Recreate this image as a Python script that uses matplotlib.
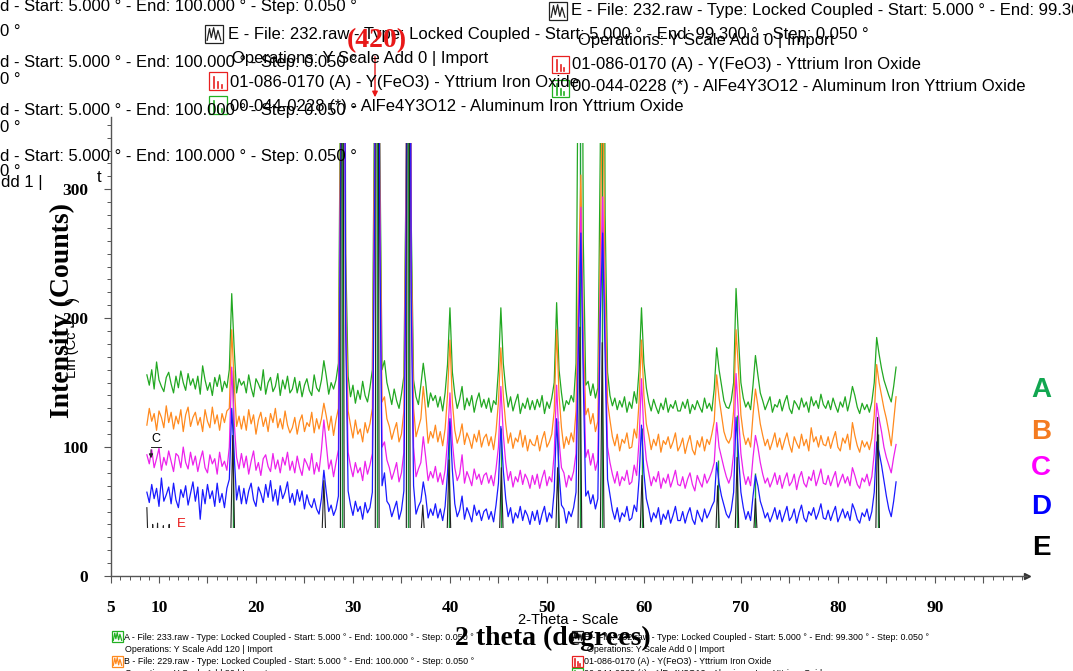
import matplotlib
matplotlib.use("Agg")
import matplotlib.pyplot as plt
import numpy as np
from matplotlib import font_manager
from matplotlib.lines import Line2D
from matplotlib.patches import Rectangle, FancyArrowPatch
from matplotlib.ticker import MultipleLocator, FixedLocator

W, H = 1073, 671
SANS = "Liberation Sans"
SERIF = "Liberation Serif"

# scan grid: 2-theta from 8.75 deg in 0.25 deg steps
THETA_START = 8.75
THETA_STEP = 0.25

# A - 233.raw (Y scale add 120)
A_COUNTS = [
    156, 148, 160, 145, 166, 152, 147, 143, 154, 158, 149, 142, 155, 146, 159, 150, 144, 157, 148, 153,
    145, 155, 141, 163, 152, 144, 150, 140, 154, 147, 156, 143, 151, 146, 160, 219, 177, 142, 153, 148,
    151, 142, 156, 146, 139, 153, 149, 144, 160, 141, 150, 154, 143, 147, 157, 140, 152, 145, 155, 142,
    145, 154, 142, 151, 139, 148, 153, 144, 140, 156, 146, 143, 152, 167, 155, 141, 150, 145, 152, 165,
    420, 900, 250, 155, 139, 148, 134, 144, 137, 151, 140, 135, 146, 160, 400, 1200, 350, 160, 167, 150,
    142, 133, 145, 136, 130, 141, 155, 330, 1000, 280, 152, 139, 133, 148, 165, 150, 131, 142, 136, 140,
    131, 139, 128, 142, 164, 208, 158, 141, 130, 137, 147, 129, 138, 132, 140, 127, 136, 142, 131, 137,
    130, 138, 127, 136, 133, 160, 208, 165, 145, 131, 139, 128, 135, 141, 126, 134, 130, 138, 129, 136,
    129, 137, 131, 140, 126, 135, 130, 138, 150, 212, 160, 142, 128, 136, 133, 140, 135, 165, 450, 700,
    260, 148, 151, 140, 149, 138, 146, 330, 800, 280, 158, 140, 132, 138, 129, 136, 131, 139, 127, 135,
    130, 143, 134, 160, 208, 165, 146, 135, 128, 137, 131, 126, 134, 129, 138, 127, 133, 130, 136, 128,
    128, 135, 130, 137, 126, 133, 129, 136, 131, 127, 138, 130, 134, 128, 145, 177, 160, 148, 136, 131,
    130, 136, 150, 223, 185, 150, 138, 131, 135, 129, 148, 171, 156, 142, 136, 129, 134, 139, 127, 133,
    131, 137, 128, 135, 140, 130, 126, 136, 133, 129, 138, 131, 135, 127, 139, 132, 136, 130, 141, 133,
    130, 136, 129, 138, 132, 127, 135, 131, 139, 128, 136, 147, 140, 131, 126, 134, 129, 133, 127, 135,
    150, 185, 172, 161, 152, 146, 140, 135, 147, 162,
]

# B - 229.raw (Y scale add 80)
B_COUNTS = [
    117, 130, 120, 126, 113, 128, 123, 115, 132, 119, 127, 114, 124, 118, 129, 112, 125, 131, 116, 123,
    127, 117, 123, 112, 129, 120, 115, 131, 118, 125, 113, 126, 119, 128, 130, 191, 150, 116, 124, 114,
    124, 113, 129, 118, 125, 110, 121, 127, 116, 123, 112, 126, 119, 130, 115, 122, 114, 128, 117, 111,
    115, 123, 110, 120, 125, 112, 119, 116, 127, 111, 122, 114, 122, 134, 124, 113, 124, 109, 121, 130,
    380, 850, 220, 128, 117, 107, 121, 110, 114, 104, 119, 111, 118, 130, 360, 1100, 320, 135, 139, 122,
    116, 106, 113, 119, 104, 110, 128, 320, 950, 260, 130, 108, 115, 122, 147, 128, 103, 112, 107, 117,
    104, 112, 101, 114, 140, 183, 135, 113, 103, 109, 118, 102, 111, 106, 99, 110, 104, 113, 100, 107,
    110, 101, 108, 98, 112, 135, 177, 140, 118, 103, 111, 99, 107, 104, 113, 100, 109, 97, 106, 102,
    101, 109, 97, 106, 112, 100, 104, 110, 128, 191, 140, 115, 99, 108, 102, 111, 104, 128, 230, 311,
    190, 125, 130, 118, 126, 112, 120, 250, 400, 220, 135, 121, 108, 101, 110, 97, 106, 103, 111, 99,
    100, 114, 107, 135, 183, 140, 118, 109, 98, 106, 101, 110, 96, 105, 102, 108, 99, 104, 111, 97,
    101, 107, 95, 103, 109, 98, 94, 105, 100, 108, 97, 106, 102, 110, 120, 156, 138, 125, 112, 106,
    103, 108, 128, 191, 160, 125, 110, 102, 107, 100, 125, 145, 132, 118, 109, 101, 106, 98, 104, 111,
    100, 107, 98, 105, 111, 102, 96, 108, 103, 99, 110, 101, 106, 97, 115, 104, 108, 100, 109, 102,
    101, 108, 99, 106, 112, 100, 97, 107, 103, 110, 98, 119, 109, 101, 96, 105, 100, 104, 98, 107,
    125, 164, 150, 140, 130, 122, 112, 101, 120, 139,
]

# C
C_COUNTS = [
    94, 87, 98, 84, 91, 99, 82, 92, 86, 97, 89, 81, 95, 93, 84, 100, 88, 83, 96, 86,
    93, 81, 90, 97, 84, 80, 94, 87, 91, 79, 96, 85, 89, 82, 100, 162, 120, 92, 83, 95,
    84, 93, 79, 89, 97, 82, 88, 78, 91, 94, 85, 81, 95, 83, 90, 80, 92, 86, 96, 82,
    89, 80, 93, 84, 78, 91, 87, 82, 95, 79, 88, 81, 98, 121, 102, 83, 90, 77, 88, 98,
    350, 800, 200, 96, 85, 77, 88, 80, 84, 74, 89, 79, 86, 95, 330, 1050, 300, 100, 104, 90,
    84, 75, 81, 88, 73, 80, 96, 300, 900, 240, 100, 77, 83, 88, 108, 92, 74, 81, 76, 85,
    73, 80, 71, 82, 105, 142, 104, 84, 74, 79, 94, 72, 81, 76, 70, 83, 75, 79, 71, 78,
    80, 72, 78, 70, 83, 100, 147, 110, 88, 74, 81, 69, 77, 73, 82, 71, 79, 75, 68, 78,
    71, 79, 68, 76, 82, 70, 77, 73, 95, 148, 105, 84, 80, 69, 78, 74, 81, 95, 200, 286,
    170, 92, 98, 86, 95, 82, 90, 220, 294, 190, 100, 88, 79, 72, 81, 70, 77, 74, 82, 71,
    73, 86, 78, 105, 153, 110, 90, 80, 70, 77, 73, 81, 68, 76, 72, 79, 69, 75, 82, 71,
    70, 77, 68, 75, 80, 71, 66, 78, 73, 69, 79, 72, 76, 81, 88, 119, 100, 92, 84, 77,
    72, 78, 95, 157, 125, 95, 80, 71, 77, 70, 92, 109, 100, 88, 79, 72, 76, 69, 74, 80,
    71, 78, 68, 75, 80, 70, 73, 79, 67, 76, 81, 72, 69, 77, 74, 82, 70, 76, 83, 72,
    71, 78, 70, 76, 81, 69, 74, 79, 72, 77, 70, 84, 78, 71, 68, 76, 73, 79, 70, 77,
    95, 134, 122, 112, 100, 92, 86, 80, 92, 102,
]

# D
D_COUNTS = [
    65, 57, 71, 60, 68, 54, 76, 58, 63, 69, 56, 72, 59, 53, 67, 61, 70, 55, 64, 73,
    58, 69, 44, 67, 56, 71, 60, 66, 54, 72, 57, 64, 53, 68, 75, 130, 95, 59, 70, 56,
    68, 56, 66, 72, 59, 54, 69, 64, 57, 71, 61, 74, 58, 67, 55, 70, 60, 65, 73, 57,
    64, 55, 67, 58, 66, 52, 63, 56, 53, 60, 52, 48, 60, 82, 65, 50, 55, 47, 52, 62,
    330, 760, 190, 66, 55, 47, 58, 50, 54, 44, 57, 49, 53, 65, 300, 1000, 280, 70, 80, 58,
    55, 46, 52, 58, 44, 51, 66, 280, 850, 220, 70, 48, 54, 58, 73, 62, 45, 52, 47, 56,
    45, 52, 43, 54, 80, 122, 82, 56, 46, 51, 62, 44, 53, 48, 42, 55, 47, 51, 43, 50,
    52, 44, 50, 42, 55, 72, 116, 82, 60, 46, 53, 41, 49, 45, 54, 43, 51, 47, 40, 50,
    43, 51, 40, 48, 54, 42, 49, 45, 66, 122, 80, 55, 52, 41, 50, 46, 53, 65, 180, 266,
    150, 62, 66, 56, 63, 52, 60, 200, 266, 170, 75, 63, 51, 44, 53, 42, 49, 46, 54, 43,
    45, 55, 50, 75, 117, 80, 60, 52, 42, 49, 45, 53, 40, 48, 44, 51, 41, 47, 54, 43,
    43, 50, 41, 48, 53, 44, 40, 51, 46, 42, 52, 45, 49, 54, 58, 88, 72, 62, 55, 48,
    45, 51, 65, 123, 95, 65, 53, 44, 50, 43, 62, 78, 70, 58, 52, 45, 49, 42, 47, 53,
    44, 51, 42, 48, 54, 43, 46, 52, 41, 49, 55, 45, 42, 50, 47, 53, 44, 49, 56, 45,
    44, 51, 43, 49, 54, 42, 47, 52, 45, 50, 43, 56, 51, 44, 41, 49, 46, 52, 43, 50,
    65, 104, 96, 86, 74, 62, 52, 46, 58, 73,
]

# E - 232.raw (Y scale add 0), mostly below the window floor
E_THETA = [8.75, 8.85, 9.3, 9.35, 9.4, 9.8, 9.85, 9.9, 10.4, 10.45, 10.5, 11.0, 11.05, 11.1,
           17.4, 17.6, 17.8, 26.8, 27.0, 27.2, 28.7, 28.9, 29.1, 32.3, 32.5, 32.7,
           35.5, 35.7, 35.9, 37.0, 37.2, 37.4, 39.7, 39.9, 40.1, 45.1, 45.3, 45.5,
           50.9, 51.1, 51.3, 53.2, 53.4, 53.6, 55.5, 55.7, 55.9, 59.6, 59.8, 60.0,
           67.4, 67.6, 67.8, 69.4, 69.6, 69.8, 71.3, 71.5, 71.7, 83.9, 84.1, 84.3, 86.0]
E_COUNTS = [53, 30, 30, 40, 30, 30, 41, 30, 30, 39, 30, 30, 40, 30,
            30, 109, 30, 30, 74, 30, 30, 700, 30, 30, 900, 30,
            30, 800, 30, 30, 55, 30, 30, 90, 30, 30, 84, 30,
            30, 84, 30, 30, 193, 30, 30, 181, 30, 30, 78, 30,
            30, 70, 30, 30, 92, 30, 30, 60, 30, 30, 123, 30, 30]

# 00-044-0228 AlFe4Y3O12 reference lines
STICK_THETA = [17.6, 28.9, 32.5, 35.7, 39.9, 45.3, 51.1, 53.4, 55.7, 59.8, 67.6, 69.6, 71.5, 84.1]
STICK_HEIGHT = [160, 400, 400, 400, 120, 115, 120, 400, 400, 115, 90, 125, 80, 110]

SERIES = [
    ("A", A_COUNTS, "#22a822"),
    ("B", B_COUNTS, "#ff8a1f"),
    ("C", C_COUNTS, "#ec22ec"),
    ("D", D_COUNTS, "#1a1aff"),
]
LETTER_COLORS = {"A": "#11a650", "B": "#f47b20", "C": "#ff00ff", "D": "#0000ff", "E": "#000000"}

# visible window of the scan inside the axes
WIN_X = (8.6, 86.2)
WIN_Y = (37, 336)


def has_font(name):
    try:
        font_manager.findfont(font_manager.FontProperties(family=name), fallback_to_default=False)
        return True
    except ValueError:
        return False


if has_font("Liberation Sans Narrow"):
    SMALL_FONT, SMALL_SIZE = "Liberation Sans Narrow", 8
else:
    SMALL_FONT, SMALL_SIZE = SANS, 6.4


def fx(x):
    return x / W


def fy(y):
    return 1 - y / H


def put(fig, x, y, s, **kw):
    kw.setdefault("va", "center")
    kw.setdefault("ha", "left")
    kw.setdefault("family", SANS)
    fig.text(fx(x), fy(y), s, **kw)


def icon(fig, x, y, size, color, kind):
    fig.add_artist(Rectangle((fx(x), fy(y + size)), size / W, size / H, transform=fig.transFigure,
                             fill=False, ec=color, lw=0.9))
    if kind == "wave":
        rx = [0.12, 0.25, 0.35, 0.48, 0.6, 0.72, 0.88]
        ry = [0.15, 0.8, 0.3, 0.85, 0.2, 0.7, 0.15]
        fig.add_artist(Line2D([fx(x + size * a) for a in rx], [fy(y + size * (1 - b)) for b in ry],
                              transform=fig.transFigure, color=color, lw=0.9))
    else:
        for a, b in [(0.3, 0.75), (0.5, 0.45), (0.7, 0.3)]:
            fig.add_artist(Line2D([fx(x + size * a)] * 2, [fy(y + size * 0.9), fy(y + size * (1 - b))],
                                  transform=fig.transFigure, color=color, lw=1.2))


fig = plt.figure(figsize=(W / 100, H / 100), dpi=100)
ax = fig.add_axes([fx(110.5), fy(576), (1027 - 110.5) / W, (576 - 117) / H])
ax.set_xlim(5, 99.5)
ax.set_ylim(0, 356)

clip = Rectangle((WIN_X[0], WIN_Y[0]), WIN_X[1] - WIN_X[0], WIN_Y[1] - WIN_Y[0], transform=ax.transData)

sticks = ax.vlines(STICK_THETA, WIN_Y[0], STICK_HEIGHT, color="#1d9e3a", lw=1.0, zorder=2)
sticks.set_clip_path(clip)

for name, counts, color in SERIES:
    theta = THETA_START + THETA_STEP * np.arange(len(counts))
    line, = ax.plot(theta, counts, color=color, lw=0.9, zorder=3)
    line.set_clip_path(clip)

line, = ax.plot(E_THETA, E_COUNTS, color="#222222", lw=0.8, zorder=3)
line.set_clip_path(clip)

# axes styling
for side in ("top", "right"):
    ax.spines[side].set_visible(False)
for side in ("left", "bottom"):
    ax.spines[side].set_color("#555555")
    ax.spines[side].set_linewidth(1.0)
ax.plot(1, 0, marker=">", color="#333333", markersize=4, transform=ax.get_yaxis_transform(), clip_on=False)

major_x = list(range(5, 100, 5))
ax.xaxis.set_major_locator(FixedLocator(major_x))
ax.set_xticklabels([str(v) if (v == 5 or v % 10 == 0) else "" for v in major_x],
                   family=SERIF, fontweight="bold", fontsize=12.5)
ax.xaxis.set_minor_locator(MultipleLocator(1))
ax.yaxis.set_major_locator(FixedLocator([0, 100, 200, 300]))
ax.set_yticklabels(["0", "100", "200", "300"], family=SERIF, fontweight="bold", fontsize=12.5)
ax.yaxis.set_minor_locator(MultipleLocator(10))
ax.tick_params(which="major", length=5, width=0.8, color="#555555")
ax.tick_params(which="minor", length=3, width=0.7, color="#555555")
ax.tick_params(axis="x", which="major", pad=12)
ax.tick_params(axis="y", which="major", pad=11)

# axis titles
put(fig, 62, 310, "Intensity (Counts)", rotation=90, ha="center", family=SERIF, fontweight="bold", fontsize=20)
put(fig, 72, 355, "Lin (Cc", rotation=90, ha="center", fontsize=10.5)
put(fig, 73, 300, ")", rotation=90, ha="center", fontsize=10.5)
put(fig, 518, 620, "2-Theta - Scale", fontsize=10.5)
put(fig, 553, 638, "2 theta (degrees)", ha="center", family=SERIF, fontweight="bold", fontsize=20)

# legend fragments along the left edge
for y in (7, 63, 110, 157):
    put(fig, 0, y, "d - Start: 5.000 ° - End: 100.000 ° - Step: 0.050 °", fontsize=12)
for y in (32, 80, 128, 172):
    put(fig, 0, y, "0 °", fontsize=12)
put(fig, 1, 182, "dd 1 |", fontsize=12)
put(fig, 97, 178, "t", fontsize=12)

# legend block (left copy)
icon(fig, 205, 25, 18, "#222222", "wave")
put(fig, 228, 34, "E - File: 232.raw - Type: Locked Coupled - Start: 5.000 ° - End: 99.300 ° - Step: 0.050 °",
    fontsize=12)
put(fig, 232, 58, "Operations: Y Scale Add 0 | Import", fontsize=12)
icon(fig, 209, 72, 18, "#e82020", "sticks")
put(fig, 230, 82, "01-086-0170 (A) - Y(FeO3) - Yttrium Iron Oxide", fontsize=12)
icon(fig, 209, 96, 18, "#22b022", "sticks")
put(fig, 230, 106, "00-044-0228 (*) - AlFe4Y3O12 - Aluminum Iron Yttrium Oxide", fontsize=12)

# legend block (right copy)
icon(fig, 549, 2, 18, "#222222", "wave")
put(fig, 571, 10, "E - File: 232.raw - Type: Locked Coupled - Start: 5.000 ° - End: 99.300 ° - Step: 0.050 °",
    fontsize=12)
put(fig, 578, 40, "Operations: Y Scale Add 0 | Import", fontsize=12)
icon(fig, 552, 56, 17, "#e82020", "sticks")
put(fig, 572, 64, "01-086-0170 (A) - Y(FeO3) - Yttrium Iron Oxide", fontsize=12)
icon(fig, 552, 80, 17, "#22b022", "sticks")
put(fig, 572, 87, "00-044-0228 (*) - AlFe4Y3O12 - Aluminum Iron Yttrium Oxide", fontsize=12)

# (420) marker
put(fig, 377, 41, "(420)", ha="center", family=SERIF, fontweight="bold", fontsize=20, color="#e81818")
fig.add_artist(FancyArrowPatch((fx(375), fy(54)), (fx(375), fy(100)), transform=fig.transFigure,
                               arrowstyle="-|>", mutation_scale=8, color="#e81818", lw=1.0))

# in-plot markers
put(fig, 156, 439, "C", ha="center", fontsize=9)
fig.add_artist(Line2D([fx(151), fx(161)], [fy(447), fy(447)], transform=fig.transFigure, color="#222222", lw=0.7))
fig.add_artist(FancyArrowPatch((fx(151), fy(447)), (fx(151), fy(461)), transform=fig.transFigure,
                               arrowstyle="-|>", mutation_scale=6, color="#222222", lw=0.7))
put(fig, 181, 524, "E", ha="center", fontsize=9.5, color="#e81818")

# sample letters on the right
for name, y in zip("ABCDE", (390, 432, 468, 507, 548)):
    put(fig, 1041, y, name, ha="center", fontweight="bold", fontsize=20, color=LETTER_COLORS[name])

# bottom legend
small = dict(family=SMALL_FONT, fontsize=SMALL_SIZE)
icon(fig, 112, 631, 11, "#22b022", "wave")
put(fig, 124, 637, "A - File: 233.raw - Type: Locked Coupled - Start: 5.000 ° - End: 100.000 ° - Step: 0.050 °", **small)
put(fig, 125, 649, "Operations: Y Scale Add 120 | Import", **small)
icon(fig, 112, 656, 11, "#ff8a1f", "wave")
put(fig, 124, 661, "B - File: 229.raw - Type: Locked Coupled - Start: 5.000 ° - End: 100.000 ° - Step: 0.050 °", **small)
put(fig, 125, 673, "Operations: Y Scale Add 80 | Import", **small)
icon(fig, 572, 631, 11, "#222222", "wave")
put(fig, 584, 637, "E - File: 232.raw - Type: Locked Coupled - Start: 5.000 ° - End: 99.300 ° - Step: 0.050 °", **small)
put(fig, 587, 649, "Operations: Y Scale Add 0 | Import", **small)
icon(fig, 572, 656, 11, "#e82020", "sticks")
put(fig, 584, 661, "01-086-0170 (A) - Y(FeO3) - Yttrium Iron Oxide", **small)
icon(fig, 572, 668, 11, "#22b022", "sticks")
put(fig, 584, 673, "00-044-0228 (*) - AlFe4Y3O12 - Aluminum Iron Yttrium Oxide", **small)

fig.savefig("out.png", dpi=100)
